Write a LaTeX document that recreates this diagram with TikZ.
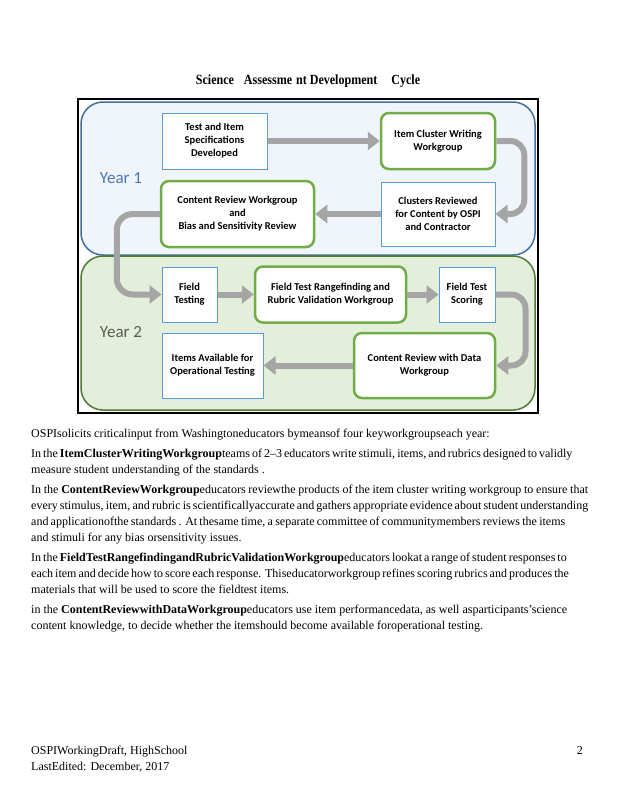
\documentclass[tikz,border=0pt]{standalone}
\usepackage{fontspec}
\setmainfont{Liberation Serif}
\newfontfamily\bodyfont{Liberation Serif}
\newfontfamily\titlefont[FakeStretch=0.86]{Liberation Serif}
\newfontfamily\boxfont{Carlito}
\newfontfamily\yearfont{Carlito}
\usetikzlibrary{arrows.meta}
\definecolor{boxblue}{HTML}{5B9BD5}
\definecolor{boxgreen}{HTML}{70AD47}
\definecolor{yoneborder}{HTML}{41719C}
\definecolor{yonefill}{HTML}{EFF5FA}
\definecolor{ytwoborder}{HTML}{4E7A35}
\definecolor{ytwofill}{HTML}{E3EFDA}
\definecolor{arrowgray}{HTML}{A5A5A5}
\definecolor{yonetext}{HTML}{4A77B8}
\definecolor{ytwotext}{HTML}{595959}
\begin{document}
\begin{tikzpicture}[x=1pt,y=-1pt,
  bluebox/.style={draw=boxblue, line width=1pt, fill=white, inner sep=1pt, align=center,
    font=\boxfont\bfseries\fontsize{10.5}{13}\selectfont},
  greenbox/.style={bluebox, draw=boxgreen, line width=2.5pt, rounded corners=8pt},
  flow/.style={draw=arrowgray, line width=6pt, -{Triangle[width=18pt,length=12pt]}},
  yearlabel/.style={font=\yearfont\fontsize{17}{20}\selectfont, inner sep=0pt},
  bodyline/.style={anchor=base west, inner sep=0pt, font=\bodyfont\fontsize{12}{14}\selectfont},
  yearbox/.style={line width=1.5pt, rounded corners=22pt}
]
\useasboundingbox (0,0) rectangle (618,800);

% title
\node[font=\titlefont\bfseries\fontsize{14}{16}\selectfont, inner sep=0pt] (title) at (308,81)
  {Science\hspace{10pt}Assessme\hspace{4pt}nt Development\hspace{14pt}Cycle};

% frame and year panels
\draw[line width=1.5pt] (78,99) rectangle (538,413);
\draw[yearbox, draw=yoneborder, fill=yonefill] (81,102) rectangle (535,255);
\draw[yearbox, draw=ytwoborder, fill=ytwofill] (81,256) rectangle (535,410);
\node[yearlabel, text=yonetext] (yone) at (121,178) {Year 1};
\node[yearlabel, text=ytwotext] (ytwo) at (121,332) {Year 2};

% boxes
\node[bluebox, minimum width=105pt, minimum height=56pt] (tis) at (214.5,141)
  {Test and Item\\Specifications\\Developed};
\node[greenbox, minimum width=114pt, minimum height=56pt] (icw) at (438,141)
  {Item Cluster Writing\\Workgroup};
\node[bluebox, minimum width=114pt, minimum height=64pt] (crc) at (438,214)
  {Clusters Reviewed\\for Content by OSPI\\and Contractor};
\node[greenbox, minimum width=153pt, minimum height=66pt] (crw) at (237.5,214)
  {Content Review Workgroup\\and\\Bias and Sensitivity Review};
\node[bluebox, minimum width=55pt, minimum height=55pt] (ft) at (189.5,294.5)
  {Field\\Testing};
\node[greenbox, minimum width=151pt, minimum height=56pt] (ftr) at (330.5,294.5)
  {Field Test Rangefinding and\\Rubric Validation Workgroup};
\node[bluebox, minimum width=56pt, minimum height=55pt] (fts) at (467,294.5)
  {Field Test\\Scoring};
\node[bluebox, minimum width=101pt, minimum height=65pt] (ia) at (212.5,365.5)
  {Items Available for\\Operational Testing};
\node[greenbox, minimum width=141pt, minimum height=65pt] (crd) at (424.5,365.5)
  {Content Review with Data\\Workgroup};

% arrows
\draw[flow] (tis.east) -- (icw.west);
\draw[flow, rounded corners=14pt] (icw.east) -- ++(28,0) |- (crc.east);
\draw[flow] (crc.west) -- (crw.east);
\draw[flow, rounded corners=16pt] (crw.west) -- ++(-43,0) |- (ft.west);
\draw[flow] (ft.east) -- (ftr.west);
\draw[flow] (ftr.east) -- (fts.west);
\draw[flow, rounded corners=14pt] (fts.east) -- ++(30,0) |- (crd.east);
\draw[flow] (crd.west) -- (ia.east);

% body text
\node[bodyline] (l1) at (31,437) {OSPIsolicits criticalinput from Washingtoneducators bymeansof four keyworkgroupseach year:};
\node[bodyline] (l2) at (31,457) {\makebox[528pt][s]{In the \textbf{ItemClusterWritingWorkgroup}teams of 2–3 educators write stimuli, items, and rubrics designed to validly}};
\node[bodyline] (l3) at (31,473) {measure student understanding of the standards .};
\node[bodyline] (l4) at (31,493) {\makebox[557pt][s]{In the \textbf{ContentReviewWorkgroup}educators reviewthe products of the item cluster writing workgroup to ensure that}};
\node[bodyline] (l5) at (31,509) {\makebox[557pt][s]{every stimulus, item, and rubric is scientificallyaccurate and gathers appropriate evidence about student understanding}};
\node[bodyline] (l6) at (31,525) {\makebox[534pt][s]{and applicationofthe standards . At thesame time, a separate committee of communitymembers reviews the items}};
\node[bodyline] (l7) at (31,541) {and stimuli for any bias orsensitivity issues.};
\node[bodyline] (l8) at (31,561) {\makebox[535pt][s]{In the \textbf{FieldTestRangefindingandRubricValidationWorkgroup}educators lookat a range of student responses to}};
\node[bodyline] (l9) at (31,577) {\makebox[535pt][s]{each item and decide how to score each response. Thiseducatorworkgroup refines scoring rubrics and produces the}};
\node[bodyline] (l10) at (31,593) {materials that will be used to score the fieldtest items.};
\node[bodyline] (l11) at (31,613) {in the \textbf{ContentReviewwithDataWorkgroup}educators use item performancedata, as well asparticipants’science};
\node[bodyline] (l12) at (31,629) {content knowledge, to decide whether the itemshould become available foroperational testing.};

% footer
\node[bodyline] (f1) at (31,754) {OSPIWorkingDraft, HighSchool};
\node[bodyline] (f2) at (31,770) {LastEdited: December, 2017};
\node[bodyline, anchor=base east] (pg) at (583,754) {2};
\end{tikzpicture}
\end{document}
